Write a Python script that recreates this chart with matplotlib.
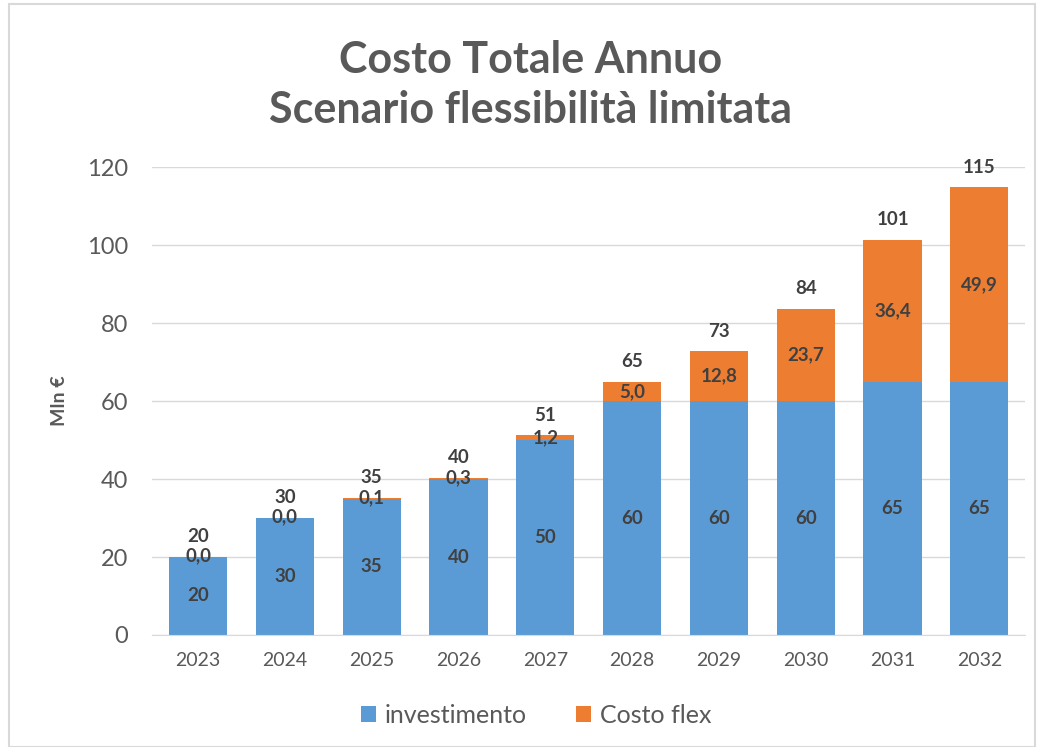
import numpy as np
import matplotlib
matplotlib.use("Agg")
import matplotlib.pyplot as plt
from matplotlib.patches import Rectangle

years = ["2023", "2024", "2025", "2026", "2027", "2028", "2029", "2030", "2031", "2032"]
investimento = [20, 30, 35, 40, 50, 60, 60, 60, 65, 65]
costo_flex = [0.0, 0.0, 0.1, 0.3, 1.2, 5.0, 12.8, 23.7, 36.4, 49.9]
totali = [20, 30, 35, 40, 51, 65, 73, 84, 101, 115]

BLUE = "#5B9BD5"; ORANGE = "#ED7D31"; GRAY = "#595959"; DARK = "#404040"
plt.rcParams["font.family"] = ["Lato", "DejaVu Sans"]

fig = plt.figure(figsize=(10.41, 7.47), dpi=100)
fig.patches.append(Rectangle((0.009, 0.0), 0.985, 0.995, transform=fig.transFigure,
                             fill=False, edgecolor="#d9d9d9", lw=1.5))
ax = fig.add_axes([0.146, 0.150, 0.839, 0.626])

x = np.arange(len(years))
w = 0.67
ax.bar(x, investimento, w, color=BLUE, label="investimento", zorder=2)
ax.bar(x, costo_flex, w, bottom=investimento, color=ORANGE, label="Costo flex", zorder=2)

for i in range(len(years)):
    ax.text(x[i], investimento[i] / 2, f"{investimento[i]}", ha="center", va="center",
            fontsize=13.5, fontweight="bold", color=DARK)
    fy = investimento[i] + max(costo_flex[i] / 2, 0.3)
    ax.text(x[i], fy, f"{costo_flex[i]:.1f}".replace(".", ","), ha="center", va="center",
            fontsize=13.5, fontweight="bold", color=DARK)
    top = investimento[i] + costo_flex[i]
    ax.text(x[i], top + 3.0, f"{totali[i]}", ha="center", va="bottom",
            fontsize=13.5, fontweight="bold", color=DARK, clip_on=False)

ax.set_xlim(-0.53, 9.53)
ax.set_ylim(0, 120)
ax.set_yticks(range(0, 121, 20))
ax.set_xticks(x)
ax.set_xticklabels(years)
ax.tick_params(axis="both", length=0, colors=GRAY)
ax.tick_params(axis="x", labelsize=14, pad=12)
ax.tick_params(axis="y", labelsize=17, pad=17)
ax.grid(axis="y", color="#d9d9d9", lw=1, zorder=0)
for s in ["top", "right", "left"]:
    ax.spines[s].set_visible(False)
ax.spines["bottom"].set_color("#d9d9d9")
ax.set_ylabel("Mln €", fontsize=14, fontweight="bold", color=GRAY, labelpad=14)

fig.text(0.51, 0.886, "Costo Totale Annuo\nScenario flessibilità limitata", ha="center", va="center",
         fontsize=31, fontweight="bold", color=GRAY, linespacing=1.32)

fig.legend(loc="center", bbox_to_anchor=(0.515, 0.042), ncol=2, frameon=False, fontsize=18,
           handlelength=0.6, handleheight=0.6, handletextpad=0.35, columnspacing=2.0,
           labelcolor=GRAY)

plt.savefig("out.png", dpi=100)
